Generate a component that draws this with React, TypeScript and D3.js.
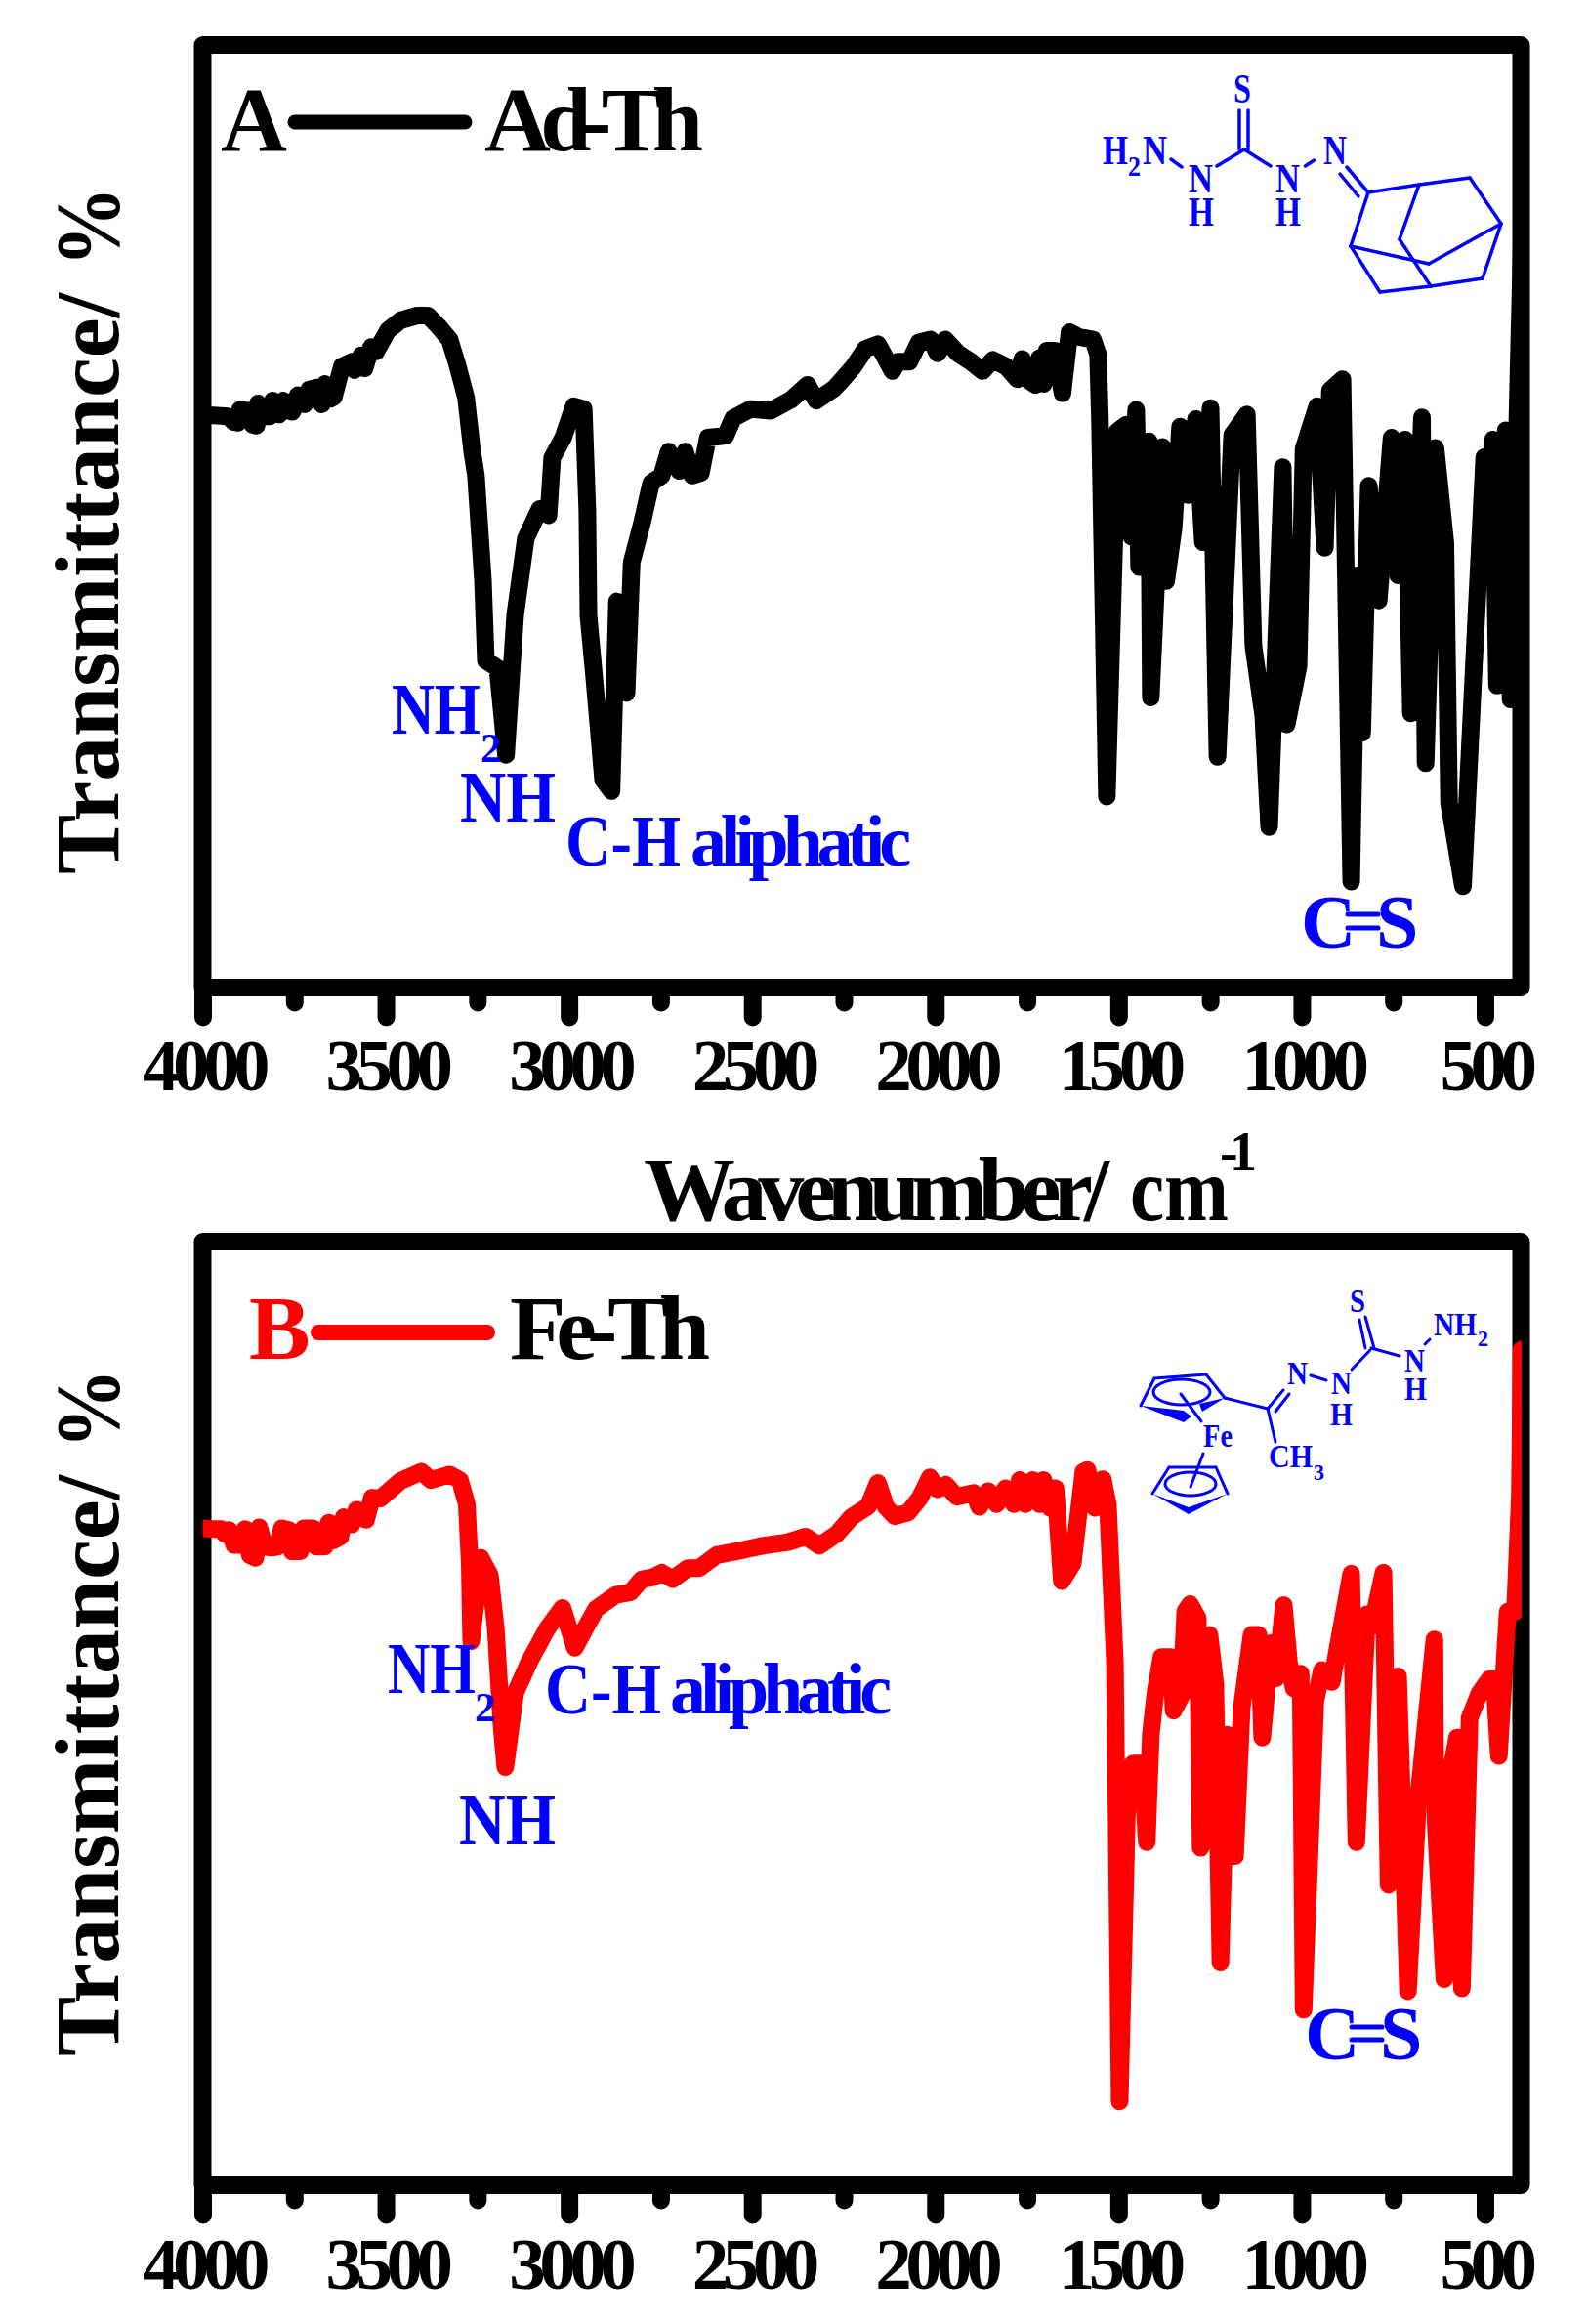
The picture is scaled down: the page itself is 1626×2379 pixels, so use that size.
import React, { useEffect, useRef } from "react";
import * as d3 from "d3";

type Pt = [number, number];
type Seg = [number, number, number, number];

// [wavenumber, transmittance in % of plot height]
const adTh: Pt[] = [
  [4000, 60.9], [3971, 60.9], [3931, 60.8], [3915, 60.2], [3904, 60.1], [3898, 61.5], [3878, 61.4], [3864, 59.9],
  [3853, 59.8], [3849, 62.2], [3824, 60.8], [3816, 60.8], [3809, 62.5], [3791, 61.0], [3780, 62.5], [3764, 61.4],
  [3755, 61.3], [3740, 63.1], [3722, 62.1], [3709, 63.7], [3687, 63.9], [3675, 62.1], [3666, 64.3], [3651, 62.7],
  [3642, 62.9], [3620, 66.2], [3593, 66.7], [3585, 65.8], [3567, 67.4], [3558, 66.0], [3540, 68.3], [3527, 67.8],
  [3494, 70.1], [3459, 71.2], [3414, 71.7],
  [3385, 71.7], [3358, 70.6], [3326, 69.1], [3305, 66.4], [3281, 62.8], [3265, 57.2], [3254, 54.4], [3235, 43.1],
  [3227, 34.4], [3195, 33.6], [3172, 24.2], [3147, 39.3], [3118, 47.6], [3080, 50.8], [3056, 50.1], [3046, 56.3],
  [3016, 58.5], [2987, 61.9], [2960, 61.6], [2950, 50.6], [2947, 39.3], [2931, 32.5], [2907, 21.5], [2884, 20.3],
  [2869, 40.8], [2843, 30.9], [2829, 45.0], [2800, 49.4], [2776, 53.6], [2747, 54.4], [2728, 57.0], [2699, 54.9],
  [2683, 57.0], [2664, 54.4], [2640, 54.7], [2621, 58.5], [2573, 58.7], [2552, 60.6], [2504, 61.6], [2450, 61.4],
  [2394, 62.6], [2349, 64.2], [2325, 62.5], [2277, 63.8], [2258, 64.6], [2223, 66.2], [2191, 68.1], [2157, 68.6],
  [2117, 65.7], [2103, 66.7], [2071, 66.7], [2045, 68.8], [2013, 69.1], [1994, 67.6], [1973, 69.1], [1938, 67.6],
  [1903, 66.7], [1871, 65.7], [1843, 66.9], [1807, 66.2], [1776, 64.8], [1763, 67.0], [1749, 64.8], [1727, 64.2],
  [1716, 67.1], [1705, 64.3], [1696, 67.9], [1674, 67.9], [1653, 63.3], [1634, 69.9], [1610, 69.4], [1570, 69.1],
  [1556, 67.5], [1551, 60.7], [1532, 19.7],
  [1503, 59.2], [1479, 59.9], [1465, 47.8], [1452, 61.5], [1444, 44.5], [1417, 58.1], [1412, 30.4], [1380, 57.5],
  [1370, 43.0], [1350, 48.7], [1332, 59.7], [1310, 52.3], [1289, 60.5], [1270, 47.2], [1249, 61.7], [1230, 24.0],
  [1190, 58.8], [1150, 61.0], [1132, 36.0], [1105, 28.4], [1089, 16.4], [1052, 55.3], [1041, 27.5], [1009, 33.8],
  [995, 57.3], [958, 61.9], [937, 46.6], [923, 63.6], [889, 64.8], [865, 10.5], [849, 43.6], [835, 26.6],
  [817, 53.3], [790, 40.9], [755, 58.5], [737, 43.6], [718, 58.3], [702, 28.7], [672, 60.7], [662, 23.3],
  [635, 57.4], [608, 47.1], [598, 19.0], [560, 10.0], [502, 56.4], [491, 43.4], [478, 58.3], [467, 31.7],
  [443, 59.3], [430, 30.2], [400, 79.4],
];

const feTh: Pt[] = [
  [4000, 70.0], [3968, 69.9], [3950, 69.9], [3940, 69.4], [3928, 69.8], [3914, 68.2], [3895, 68.2], [3884, 69.9],
  [3871, 67.1], [3856, 66.8], [3846, 70.1], [3831, 68.0], [3812, 67.9], [3796, 68.0], [3784, 70.0], [3765, 69.8],
  [3756, 67.5], [3734, 67.5], [3724, 70.0], [3699, 70.0], [3690, 68.0], [3667, 68.0], [3656, 70.6], [3643, 68.7],
  [3624, 69.1], [3615, 71.2], [3593, 70.4], [3580, 72.0], [3554, 70.9], [3538, 73.3], [3515, 73.2], [3460, 75.1],
  [3403, 76.1], [3377, 75.2], [3326, 75.8], [3298, 75.2],
  [3279, 72.6], [3271, 66.2], [3267, 57.8], [3241, 66.8], [3216, 64.9], [3200, 59.2], [3184, 48.6], [3174, 44.2],
  [3154, 50.1], [3147, 52.2], [3107, 55.7], [3059, 59.2], [3018, 61.4], [3006, 59.9], [2984, 57.1], [2950, 59.6],
  [2926, 61.3], [2872, 62.8], [2832, 63.1], [2801, 64.5], [2771, 64.7], [2747, 65.2], [2717, 64.5], [2676, 65.7],
  [2645, 65.7], [2597, 67.1], [2544, 67.5], [2472, 68.1], [2402, 68.5], [2354, 69.1], [2317, 68.1], [2269, 69.4],
  [2229, 71.2], [2183, 72.4], [2157, 74.9], [2135, 72.3], [2111, 71.3], [2074, 71.7], [2042, 73.3], [2015, 75.5],
  [1994, 74.2], [1971, 74.7], [1942, 73.4], [1895, 73.8], [1880, 72.3], [1856, 74.0], [1833, 72.6], [1809, 74.3],
  [1786, 72.6], [1770, 75.2], [1755, 72.6], [1734, 75.2], [1716, 72.6], [1705, 75.2], [1687, 72.2], [1672, 74.3],
  [1655, 64.3], [1625, 66.2],
  [1596, 76.1], [1585, 76.3], [1564, 72.2], [1543, 75.3], [1529, 72.5], [1510, 55.5], [1497, 8.1], [1476, 40.9],
  [1460, 44.6], [1436, 44.6], [1423, 36.1], [1412, 47.7], [1399, 52.4], [1383, 56.1], [1356, 56.1], [1350, 50.3],
  [1329, 51.9], [1318, 61.0], [1305, 61.8], [1284, 60.3], [1276, 35.5], [1252, 58.5], [1236, 53.1], [1222, 23.1],
  [1204, 47.7], [1182, 34.6], [1164, 50.6], [1137, 58.5], [1118, 58.5], [1108, 47.4], [1084, 57.6], [1070, 53.8],
  [1049, 61.7], [1035, 55.5], [1022, 52.7], [1003, 54.3], [995, 18.0], [963, 51.3], [945, 54.7], [918, 53.4],
  [902, 57.1], [865, 65.1], [851, 36.1], [822, 60.7], [809, 59.4], [777, 65.2], [763, 31.5], [737, 54.0],
  [710, 20.0], [683, 40.4], [638, 58.0], [635, 38.5], [611, 21.3], [603, 41.6], [576, 47.4], [563, 20.3],
  [542, 49.5], [515, 52.2], [488, 53.7], [475, 53.7], [462, 45.4], [438, 61.0], [418, 61.0], [405, 73.3], [400, 89.3],
];

const majorTicks = [4000, 3500, 3000, 2500, 2000, 1500, 1000, 500];
const minorTicks = [3750, 3250, 2750, 2250, 1750, 1250, 750];

const serif = "'Liberation Serif', 'Times New Roman', serif";
const blue = "#0000ff";
const xScale = d3.scaleLinear().domain([4000, 400]).range([207.5, 1558]);

// little helper so every label sits exactly where the original has it
function label(g: any, str: string, x: number, y: number, size: number, len: number | null, fill = "#000", squeeze = false) {
  const t = g.append("text")
    .attr("x", x)
    .attr("y", y)
    .attr("font-family", serif)
    .attr("font-weight", "bold")
    .attr("font-size", size)
    .attr("fill", fill)
    .text(str);
  if (len) t.attr("textLength", len).attr("lengthAdjust", squeeze ? "spacingAndGlyphs" : "spacing");
  return t;
}

function bonds(g: any, segs: Seg[], w: number) {
  g.selectAll(null)
    .data(segs)
    .join("line")
    .attr("x1", (d: Seg) => d[0])
    .attr("y1", (d: Seg) => d[1])
    .attr("x2", (d: Seg) => d[2])
    .attr("y2", (d: Seg) => d[3])
    .attr("stroke", blue)
    .attr("stroke-width", w)
    .attr("stroke-linecap", "round");
}

function drawPanel(svg: any, id: string, top: number, bottom: number, data: Pt[], color: string, labelY: number) {
  const frameTop = top + 9;
  const frameBottom = bottom + 9;
  const y = d3.scaleLinear().domain([0, 100]).range([bottom, top + 18]);

  // axes first, so the frame sits over the tick roots
  const addAxis = (values: number[], len: number, withText: boolean) => {
    const axis = d3.axisBottom(xScale).tickValues(values).tickSize(len - 9).tickPadding(0)
      .tickFormat(withText ? (d3.format("d") as any) : () => "");
    const a = svg.append("g").attr("transform", `translate(0,${frameBottom})`).call(axis);
    a.select(".domain").remove();
    a.selectAll("line")
      .attr("stroke", "#000")
      .attr("stroke-width", 18)
      .attr("stroke-linecap", "round");
    a.selectAll("text")
      .attr("y", labelY - frameBottom)
      .attr("dy", 0)
      .attr("fill", "#000")
      .attr("font-family", serif)
      .attr("font-weight", "bold")
      .attr("font-size", 75)
      .attr("letter-spacing", -6.5);
  };
  addAxis(majorTicks, 39.5, true);
  addAxis(minorTicks, 24.5, false);

  svg.append("rect")
    .attr("x", 207.5)
    .attr("y", frameTop)
    .attr("width", 1350)
    .attr("height", frameBottom - frameTop)
    .attr("fill", "none")
    .attr("stroke", "#000")
    .attr("stroke-width", 18)
    .attr("stroke-linejoin", "round");

  // the trace is cut off at the axis range, half a line width into the frame
  svg.append("clipPath").attr("id", id)
    .append("rect")
    .attr("x", xScale(4000))
    .attr("y", top)
    .attr("width", xScale(400) - xScale(4000))
    .attr("height", bottom - top);

  const line = d3.line<Pt>().x((d) => xScale(d[0])).y((d) => y(d[1]));
  svg.append("path")
    .attr("d", line(data))
    .attr("clip-path", `url(#${id})`)
    .attr("fill", "none")
    .attr("stroke", color)
    .attr("stroke-width", 18)
    .attr("stroke-linejoin", "round")
    .attr("stroke-linecap", "round");
}

function yTitle(svg: any, bottomY: number) {
  label(svg, "Transmittance/", 0, 0, 94, 595, "#000", true).attr("transform", `translate(121,${bottomY}) rotate(-90)`);
  label(svg, "%", 0, 0, 94, 82, "#000", true).attr("transform", `translate(121,${bottomY - 622}) rotate(-90)`);
}

function cs(svg: any, cx: number, sx: number, base: number, b1: number, b2: number) {
  label(svg, "C", cx, base, 78, 50, blue);
  label(svg, "S", sx, base, 78, 38, blue);
  bonds(svg, [[cx + 48, b1, sx + 2, b1], [cx + 48, b2, sx + 2, b2]], 5);
}

const adamantane: Record<string, Pt> = {
  a: [1401, 197], b: [1453, 189], c: [1505, 182], d: [1537, 229], e: [1518, 285],
  f: [1465, 293], g: [1413, 299], h: [1383, 252], i: [1433, 245], j: [1463, 270],
};
const adamantaneEdges = ["ab", "bc", "cd", "de", "ef", "fg", "gh", "ha", "bi", "if", "hj", "jd"];
const adChain: Seg[] = [
  [1199, 163, 1210, 171], [1246, 170, 1274, 153], [1274, 153, 1301, 170], [1336.5, 170, 1345.5, 164],
  [1269, 113, 1269, 153], [1278, 113, 1278, 153], [1379, 171, 1401, 197], [1372, 178, 1391, 201],
];

const feChain: Seg[] = [
  [1392, 1351, 1398, 1380], [1398, 1348, 1407, 1380], [1404, 1380, 1433, 1388], [1459, 1376, 1464, 1371],
  [1403, 1382, 1384, 1402], [1342, 1408, 1358, 1413], [1298, 1442, 1314, 1423], [1306, 1445, 1320, 1427],
  [1298, 1442, 1306, 1476], [1254, 1431, 1298, 1442], [1209, 1427, 1230, 1455], [1232, 1488, 1219, 1522],
  [1168, 1439, 1182, 1411], [1182, 1411, 1235, 1407], [1235, 1407, 1254, 1431],
  [1180, 1529, 1197, 1502], [1197, 1502, 1245, 1502], [1245, 1502, 1257, 1529],
];
const feWedges = [
  "1168,1439 1212,1456 1220,1450 1212,1444",
  "1254,1431 1228,1437 1231,1445",
  "1180,1529 1217,1550 1257,1529 1217,1543",
];
const feRings = [[1210, 1425, 29, 13], [1219, 1519, 26, 12]];

const App = () => {
  const ref = useRef<SVGSVGElement>(null);

  useEffect(() => {
    const svg = d3.select(ref.current);
    svg.selectAll("*").remove();

    // panel A
    drawPanel(svg, "clip-a", 37, 1002, adTh, "#000", 1116);
    yTitle(svg, 895);
    label(svg, "A", 226, 154, 94, 66);
    svg.append("line").attr("x1", 302).attr("x2", 476).attr("y1", 125).attr("y2", 125)
      .attr("stroke", "#000").attr("stroke-width", 15).attr("stroke-linecap", "round");
    label(svg, "Ad-Th", 496, 154, 94, 224);
    label(svg, "NH", 401, 751, 74, 91, blue, true);
    label(svg, "2", 492, 780, 43, 19, blue);
    label(svg, "NH", 471, 841, 74, 98, blue, true);
    label(svg, "C-H", 579, 886, 74, 118, blue, true);
    label(svg, "aliphatic", 707, 886, 74, 226, blue);
    cs(svg, 1332, 1409, 970, 936, 950);

    // wavenumber title sits between the panels
    label(svg, "Wavenumber/", 659, 1249, 94, 477);
    label(svg, "cm", 1157, 1249, 94, 101, "#000", true);
    label(svg, "-1", 1249, 1198, 56, 38);

    // panel B
    drawPanel(svg, "clip-b", 1262, 2228, feTh, "#ff0000", 2343);
    yTitle(svg, 2105);
    label(svg, "B", 255, 1391, 94, 58, "#ff0000");
    svg.append("line").attr("x1", 326).attr("x2", 499).attr("y1", 1364).attr("y2", 1364)
      .attr("stroke", "#ff0000").attr("stroke-width", 16).attr("stroke-linecap", "round");
    label(svg, "Fe-Th", 522, 1391, 94, 205);
    label(svg, "NH", 397, 1733, 74, 90, blue, true);
    label(svg, "2", 486, 1762, 43, 21, blue);
    label(svg, "NH", 470, 1888, 74, 99, blue, true);
    label(svg, "C-H", 558, 1754, 74, 119, blue, true);
    label(svg, "aliphatic", 686, 1754, 74, 227, blue);
    cs(svg, 1336, 1413, 2108, 2075, 2088);

    // structure in panel A
    const molA = svg.append("g");
    bonds(molA, adChain, 3.5);
    bonds(molA, adamantaneEdges.map((e) => [...adamantane[e[0]], ...adamantane[e[1]]] as Seg), 3.5);
    label(molA, "S", 1263, 105, 42, 18, blue, true);
    label(molA, "H", 1129, 168, 42, 26, blue, true);
    label(molA, "2", 1155, 180, 29, 13, blue, true);
    label(molA, "N", 1170, 168, 42, 25, blue, true);
    label(molA, "N", 1217, 197, 42, 25, blue, true);
    label(molA, "H", 1217, 231, 42, 26, blue, true);
    label(molA, "N", 1306, 197, 42, 25, blue, true);
    label(molA, "H", 1306, 231, 42, 26, blue, true);
    label(molA, "N", 1355, 168, 42, 24, blue, true);

    // structure in panel B
    const molB = svg.append("g");
    bonds(molB, feChain, 3);
    molB.selectAll(null).data(feWedges).join("polygon")
      .attr("points", (d: string) => d)
      .attr("fill", blue);
    molB.selectAll(null).data(feRings).join("ellipse")
      .attr("cx", (d: number[]) => d[0])
      .attr("cy", (d: number[]) => d[1])
      .attr("rx", (d: number[]) => d[2])
      .attr("ry", (d: number[]) => d[3])
      .attr("fill", "none")
      .attr("stroke", blue)
      .attr("stroke-width", 3);
    label(molB, "S", 1382, 1343, 34, 16, blue, true);
    label(molB, "NH", 1468, 1367, 34, 44, blue, true);
    label(molB, "2", 1513, 1378, 24, 11, blue, true);
    label(molB, "N", 1438, 1404, 34, 21, blue, true);
    label(molB, "H", 1438, 1433, 34, 23, blue, true);
    label(molB, "N", 1363, 1427, 34, 21, blue, true);
    label(molB, "H", 1362, 1459, 34, 23, blue, true);
    label(molB, "N", 1318, 1417, 34, 21, blue, true);
    label(molB, "Fe", 1232, 1481, 34, 30, blue, true);
    label(molB, "CH", 1299, 1502, 34, 45, blue, true);
    label(molB, "3", 1345, 1515, 24, 11, blue, true);
  }, []);

  return (
    <svg
      ref={ref}
      width={1626}
      height={2379}
      style={{ position: "absolute", left: 0, top: 0, background: "#fff" }}
    />
  );
};

export default App;
